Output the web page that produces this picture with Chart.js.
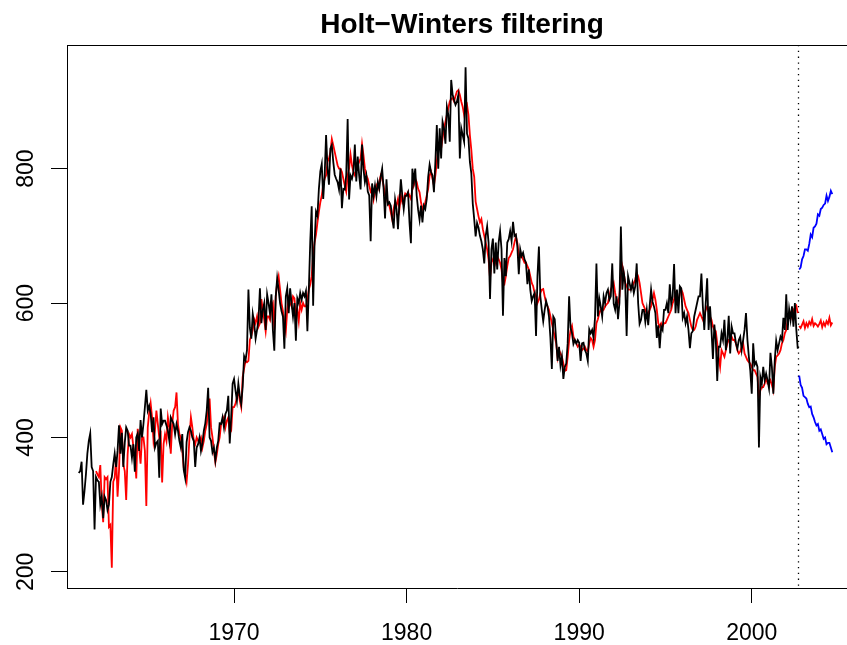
<!DOCTYPE html>
<html>
<head>
<meta charset="utf-8">
<title>Holt-Winters filtering</title>
<script src="https://cdn.jsdelivr.net/npm/chart.js@4.4.1/dist/chart.umd.min.js"></script>
<style>
  html, body { margin: 0; padding: 0; background: #fff; }
</style>
</head>
<body>
<canvas id="hwChart" width="847" height="645"></canvas>
<script>
// ---------------------------------------------------------------------------
//  Data (monthly)
// ---------------------------------------------------------------------------
const obsStart = 1961;          // Jan 1961
const fitStart = 1962;          // fitted values begin one season later
const predStart = 2002 + 9 / 12; // Oct 2002

const chartTitle = "Holt\u2212Winters filtering";
const xTicks = [1970, 1980, 1990, 2000];
const yTicks = [200, 400, 600, 800];

// observed series (black)
const observed = [
  347, 350, 364, 300, 320, 345, 376, 395, 406, 356, 350, 263, // 1961
  341, 336, 334, 300, 312, 280, 312, 307, 292, 300, 334, 341, // 1962
  360, 376, 356, 380, 418, 376, 407, 356, 392, 415, 410, 388, // 1963
  388, 370, 390, 349, 400, 406, 380, 426, 400, 420, 445, 471, // 1964
  440, 447, 436, 408, 430, 385, 392, 395, 340, 443, 420, 425, // 1965
  425, 418, 410, 395, 430, 425, 420, 405, 420, 410, 395, 385, // 1966
  405, 352, 340, 393, 408, 415, 410, 400, 395, 356, 385, 390, // 1967
  400, 380, 391, 410, 421, 440, 474, 400, 395, 378, 385, 366, // 1968
  385, 395, 421, 420, 430, 415, 435, 440, 462, 391, 430, 480, // 1969
  487, 470, 455, 480, 462, 450, 475, 521, 515, 530, 620, 563, // 1970
  547, 584, 570, 547, 560, 575, 622, 570, 590, 600, 560, 613, // 1971
  600, 584, 613, 560, 529, 610, 637, 620, 600, 588, 580, 532, // 1972
  610, 622, 585, 622, 600, 580, 600, 544, 607, 600, 615, 605, // 1973
  615, 610, 618, 558, 620, 692, 744, 596, 690, 736, 730, 770, // 1974
  796, 807, 755, 790, 850, 800, 776, 830, 835, 810, 791, 785, // 1975
  780, 769, 800, 741, 770, 769, 790, 874, 754, 790, 785, 795, // 1976
  836, 781, 818, 790, 769, 836, 800, 780, 790, 766, 760, 692, // 1977
  778, 760, 775, 759, 780, 770, 788, 800, 770, 726, 784, 747, // 1978
  750, 745, 726, 711, 754, 740, 710, 750, 784, 760, 740, 760, // 1979
  760, 765, 720, 689, 800, 780, 800, 760, 739, 724, 745, 720, // 1980
  745, 740, 755, 788, 806, 795, 790, 765, 810, 865, 800, 860, // 1981
  815, 870, 860, 837, 892, 880, 840, 932, 910, 902, 895, 900, // 1982
  910, 815, 860, 850, 840, 951, 852, 845, 810, 793, 748, 725, // 1983
  699, 719, 712, 700, 692, 680, 659, 700, 714, 690, 606, 680, // 1984
  696, 644, 690, 650, 690, 707, 680, 581, 667, 640, 690, 695, // 1985
  707, 692, 721, 700, 702, 685, 643, 680, 670, 675, 665, 660, // 1986
  628, 650, 620, 603, 610, 615, 551, 640, 684, 610, 590, 573, // 1987
  590, 603, 595, 580, 548, 502, 580, 576, 545, 514, 535, 507, // 1988
  520, 487, 505, 510, 540, 610, 563, 555, 539, 545, 540, 545, // 1989
  541, 514, 540, 541, 530, 525, 514, 561, 555, 560, 548, 578, // 1990
  659, 580, 607, 595, 580, 610, 600, 615, 620, 605, 610, 659, // 1991
  599, 590, 610, 576, 600, 714, 620, 645, 630, 551, 640, 630, // 1992
  620, 630, 615, 625, 659, 600, 569, 575, 590, 590, 572, 590, // 1993
  567, 595, 620, 602, 595, 585, 548, 567, 533, 565, 560, 590, // 1994
  590, 600, 585, 628, 599, 610, 658, 585, 620, 585, 625, 622, // 1995
  578, 585, 570, 580, 560, 533, 555, 558, 580, 590, 600, 610, // 1996
  610, 644, 595, 560, 600, 637, 560, 595, 560, 517, 568, 545, // 1997
  484, 535, 535, 555, 545, 575, 530, 545, 581, 525, 565, 555, // 1998
  555, 540, 532, 545, 550, 530, 545, 560, 585, 545, 520, 499, // 1999
  465, 540, 508, 512, 505, 385, 490, 480, 505, 485, 495, 485, // 2000
  473, 526, 505, 465, 515, 544, 530, 540, 550, 545, 578, 560, // 2001
  613, 560, 591, 575, 595, 565, 600, 560, 532                 // 2002
];

// Holt-Winters fitted values (red)
const fitted = [
  350, 345, 341, 359, 302, 274, 341, 338, 341, 267, 270, 206, // 1962
  334, 340, 371, 312, 350, 415, 410, 360, 350, 307, 375, 405, // 1963
  400, 405, 386, 371, 339, 413, 384, 361, 400, 400, 380, 298, // 1964
  415, 437, 451, 430, 395, 410, 440, 420, 400, 405, 333, 390, // 1965
  405, 395, 430, 415, 376, 420, 440, 445, 467, 420, 405, 400, // 1966
  380, 355, 345, 334, 360, 400, 430, 415, 395, 390, 400, 395, // 1967
  395, 400, 385, 395, 410, 420, 440, 458, 415, 400, 380, 363, // 1968
  375, 390, 400, 420, 425, 430, 415, 425, 430, 406, 410, 445, // 1969
  445, 450, 460, 470, 455, 445, 490, 503, 514, 512, 514, 545, // 1970
  551, 560, 576, 570, 580, 565, 570, 606, 590, 575, 558, 580, // 1971
  580, 575, 595, 600, 560, 610, 630, 640, 620, 600, 588, 570, // 1972
  558, 590, 607, 600, 595, 610, 607, 580, 590, 573, 600, 590, // 1973
  600, 595, 595, 605, 620, 628, 640, 674, 690, 702, 720, 736, // 1974
  750, 760, 776, 785, 790, 810, 815, 825, 844, 835, 825, 815, // 1975
  805, 800, 800, 795, 785, 775, 766, 790, 800, 821, 805, 795, // 1976
  790, 800, 805, 810, 815, 837, 820, 800, 790, 785, 775, 766, // 1977
  770, 754, 765, 775, 770, 780, 790, 785, 775, 760, 759, 748, // 1978
  745, 735, 724, 740, 750, 745, 755, 740, 760, 750, 755, 763, // 1979
  760, 765, 760, 755, 770, 775, 785, 780, 770, 765, 750, 740, // 1980
  745, 750, 760, 770, 790, 795, 785, 775, 790, 810, 833, 830, // 1981
  830, 845, 860, 870, 880, 890, 900, 904, 905, 900, 908, 915, // 1982
  917, 910, 900, 892, 880, 890, 895, 880, 850, 828, 800, 788, // 1983
  751, 740, 729, 720, 725, 710, 700, 690, 680, 665, 637, 660, // 1984
  665, 670, 660, 670, 665, 660, 650, 630, 628, 640, 655, 667, // 1985
  670, 675, 680, 690, 699, 690, 670, 668, 670, 665, 660, 660, // 1986
  655, 650, 640, 630, 625, 615, 610, 600, 605, 615, 620, 621, // 1987
  610, 600, 595, 590, 580, 570, 560, 550, 540, 519, 530, 525, // 1988
  520, 510, 499, 500, 520, 544, 560, 566, 550, 545, 540, 535, // 1989
  538, 535, 530, 532, 535, 530, 528, 540, 548, 545, 535, 545, // 1990
  570, 576, 585, 590, 588, 590, 595, 598, 600, 610, 620, 625, // 1991
  630, 615, 605, 600, 610, 640, 655, 645, 630, 625, 620, 620, // 1992
  620, 625, 630, 635, 645, 640, 630, 615, 600, 595, 590, 585, // 1993
  585, 590, 595, 605, 615, 605, 590, 570, 565, 570, 565, 570, // 1994
  570, 575, 580, 585, 590, 600, 605, 615, 610, 600, 615, 620, // 1995
  615, 605, 595, 590, 585, 575, 565, 560, 560, 565, 575, 580, // 1996
  585, 580, 575, 582, 590, 595, 588, 580, 575, 565, 560, 558, // 1997
  540, 520, 505, 530, 525, 520, 530, 540, 545, 545, 550, 545, // 1998
  545, 540, 530, 525, 528, 535, 540, 525, 520, 515, 512, 510, // 1999
  505, 500, 500, 495, 490, 459, 470, 475, 475, 480, 490, 480, // 2000
  480, 485, 478, 470, 505, 520, 522, 525, 530, 540, 545, 555, // 2001
  560, 575, 580, 585, 578, 590, 593, 596, 585                 // 2002
];

// 24-month forecast: point forecast (red) and bounds (blue)
const predFit = [566, 563, 568, 573, 563, 570, 565, 572, 568, 576, 566, 570,
                 568, 565, 569, 574, 564, 571, 566, 573, 569, 578, 567, 571];
const predUpr = [650, 653, 665, 670, 680, 680, 678, 688, 702, 698, 712, 714,
                 718, 732, 730, 740, 742, 746, 748, 760, 752, 758, 767, 762];
const predLwr = [492, 478, 474, 462, 460, 458, 450, 445, 446, 435, 430, 423,
                 418, 420, 410, 412, 405, 398, 400, 390, 392, 392, 385, 378];

// ---------------------------------------------------------------------------
const FONT = '"Liberation Sans", Arial, Helvetica, sans-serif';
const toPoints = (start, vals) => vals.map((v, i) => ({ x: start + i / 12, y: v }));
const lastObsX = obsStart + (observed.length - 1) / 12;

const lineSet = (data, color, width) => ({
    data, borderColor: color, borderWidth: width,
    pointRadius: 0, tension: 0, fill: false,
});

// R-ish decorations: title, top frame edge, dotted end-of-data line, rotated y labels
const rDecor = {
    id: "rDecor",
    beforeDatasetsDraw(chart) {
        const { ctx, chartArea, scales } = chart;
        const px = Math.round(scales.x.getPixelForValue(lastObsX)) + 0.5;
        ctx.save();
        ctx.strokeStyle = "#000";
        ctx.lineWidth = 1.3;
        ctx.setLineDash([1.3, 4.5]);
        ctx.beginPath();
        ctx.moveTo(px, chartArea.top);
        ctx.lineTo(px, chartArea.bottom);
        ctx.stroke();
        ctx.restore();
    },
    afterDraw(chart) {
        const { ctx, chartArea, scales } = chart;
        ctx.save();
        ctx.strokeStyle = "#000";
        ctx.lineWidth = 1;
        ctx.beginPath();
        ctx.moveTo(chartArea.left, chartArea.top + 0.5);
        ctx.lineTo(chartArea.right, chartArea.top + 0.5);
        ctx.stroke();

        ctx.fillStyle = "#000";
        // title is centred over the (wider) R plot region, not the canvas
        ctx.font = "bold 28px " + FONT;
        ctx.textAlign = "center";
        ctx.textBaseline = "alphabetic";
        ctx.fillText(chartTitle, 462, 33);

        ctx.font = "23px " + FONT;
        yTicks.forEach((v) => {
            ctx.save();
            ctx.translate(33, scales.y.getPixelForValue(v));
            ctx.rotate(-Math.PI / 2);
            ctx.fillText(String(v), 0, 0);
            ctx.restore();
        });
        ctx.restore();
    },
};

new Chart(document.getElementById("hwChart"), {
    type: "line",
    data: {
        datasets: [
            lineSet(toPoints(obsStart, observed), "#000000", 1.8),
            lineSet(toPoints(fitStart, fitted), "#ff0000", 1.8),
            lineSet(toPoints(predStart, predFit), "#ff0000", 1.8),
            lineSet(toPoints(predStart, predUpr), "#0000ff", 1.8),
            lineSet(toPoints(predStart, predLwr), "#0000ff", 1.8),
        ],
    },
    options: {
        responsive: false,
        devicePixelRatio: 1,
        animation: false,
        parsing: false,
        layout: { padding: { left: 0, right: 0, top: 45, bottom: 0 } },
        plugins: {
            legend: { display: false },
            tooltip: { enabled: false },
            title: { display: false },
        },
        scales: {
            x: {
                type: "linear",
                min: 1960.32,
                max: 2005.52,
                afterBuildTicks: (s) => { s.ticks = xTicks.map((v) => ({ value: v })); },
                afterFit: (s) => { s.height = 57; },
                grid: { drawOnChartArea: false, drawTicks: true, tickLength: 15, color: "#000", lineWidth: 1 },
                border: { display: true, color: "#000", width: 1 },
                ticks: {
                    color: "#000",
                    font: { family: FONT, size: 23 },
                    padding: 17,
                    autoSkip: false,
                    maxRotation: 0,
                    callback: (v) => String(v),
                },
            },
            y: {
                type: "linear",
                min: 176,
                max: 984,
                afterBuildTicks: (s) => { s.ticks = yTicks.map((v) => ({ value: v })); },
                afterFit: (s) => { s.width = 67; },
                grid: { drawOnChartArea: false, drawTicks: true, tickLength: 16, color: "#000", lineWidth: 1 },
                border: { display: true, color: "#000", width: 1 },
                ticks: { color: "rgba(0,0,0,0)", font: { family: FONT, size: 23 } },
            },
        },
    },
    plugins: [rDecor],
});
</script>
</body>
</html>
